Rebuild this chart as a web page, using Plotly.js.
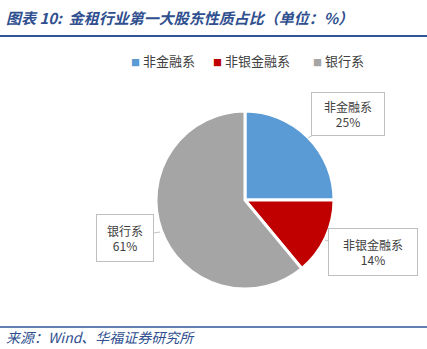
<!DOCTYPE html>
<html><head><meta charset="utf-8">
<script src="https://cdn.plot.ly/plotly-3.0.1.min.js"></script>
<style>html,body{margin:0;padding:0;background:#fff;}#chart{width:427px;height:349px;}</style>
</head><body><div id="chart"></div>
<script>
const categories = ['非金融系', '非银金融系', '银行系'];
const values = [25, 14, 61];
const colors = ['#5B9BD5', '#C00000', '#A5A5A5'];
const pctLabels = ['25%', '14%', '61%'];

const titleText = '图表 10:  金租行业第一大股东性质占比（单位：%）';
const sourceText = '来源：Wind、华福证券研究所';

const W = 427, H = 349;
const px = x => x / W;
const py = y => (H - y) / H;

// callout layout: tip point, box center, box size (pixels)
const callouts = [
  {tip: [308, 138], box: [348, 114], size: [72, 42]},
  {tip: [325, 240], box: [373, 252], size: [88, 46]},
  {tip: [160, 232], box: [125, 238], size: [56, 46]}
];
// custom legend item left positions (pixels)
const legendX = [129, 211, 311];
const legendY = 61;

const cjk = '"Noto Sans CJK SC", "Noto Sans", sans-serif';

const annotations = categories.map((c, i) => {
  const co = callouts[i];
  return {
    xref: 'paper', yref: 'paper',
    x: px(co.tip[0]), y: py(co.tip[1]),
    ax: co.box[0] - co.tip[0], ay: co.box[1] - co.tip[1],
    text: c + '<br>' + pctLabels[i],
    showarrow: true, arrowhead: 0, arrowwidth: 1, arrowcolor: '#BFBFBF',
    bordercolor: '#BFBFBF', borderwidth: 1, borderpad: 0,
    bgcolor: '#FFFFFF',
    width: co.size[0], height: co.size[1],
    font: {family: cjk, size: 12, color: '#404040'},
    align: 'center'
  };
});

categories.forEach((c, i) => {
  annotations.push({
    xref: 'paper', yref: 'paper', x: px(legendX[i]), y: py(legendY),
    xanchor: 'left', yanchor: 'middle', showarrow: false,
    text: '<span style="color:' + colors[i] + ';font-size:9px">■</span> ' + c,
    font: {family: cjk, size: 13, color: '#404040'}
  });
});

annotations.push({
  xref: 'paper', yref: 'paper', x: px(4), y: py(17),
  xanchor: 'left', yanchor: 'middle', showarrow: false,
  text: '<b><i>' + titleText + '</i></b>',
  font: {family: cjk, size: 15, color: '#2F4F8F'}
});
annotations.push({
  xref: 'paper', yref: 'paper', x: px(4), y: py(337),
  xanchor: 'left', yanchor: 'middle', showarrow: false,
  text: '<i>' + sourceText + '</i>',
  font: {family: cjk, size: 14, color: '#2F4F8F'}
});

const trace = {
  type: 'pie',
  labels: categories,
  values: values,
  sort: false,
  direction: 'clockwise',
  rotation: 0,
  textinfo: 'none',
  hoverinfo: 'label+percent',
  marker: {colors: colors, line: {color: '#FFFFFF', width: 3}},
  domain: {x: [px(245 - 89), px(245 + 89)], y: [py(200 + 89), py(200 - 89)]}
};

const layout = {
  width: W, height: H,
  margin: {l: 0, r: 0, t: 0, b: 0},
  paper_bgcolor: '#FFFFFF',
  showlegend: false,
  annotations: annotations,
  shapes: [
    {type: 'line', xref: 'paper', yref: 'paper', x0: 0, x1: 1, y0: py(36), y1: py(36), line: {color: '#2F5597', width: 2}},
    {type: 'line', xref: 'paper', yref: 'paper', x0: 0, x1: 1, y0: py(327), y1: py(327), line: {color: '#2F5597', width: 1.5}}
  ]
};

Plotly.newPlot('chart', [trace], layout, {displayModeBar: false, staticPlot: true});
</script></body></html>
